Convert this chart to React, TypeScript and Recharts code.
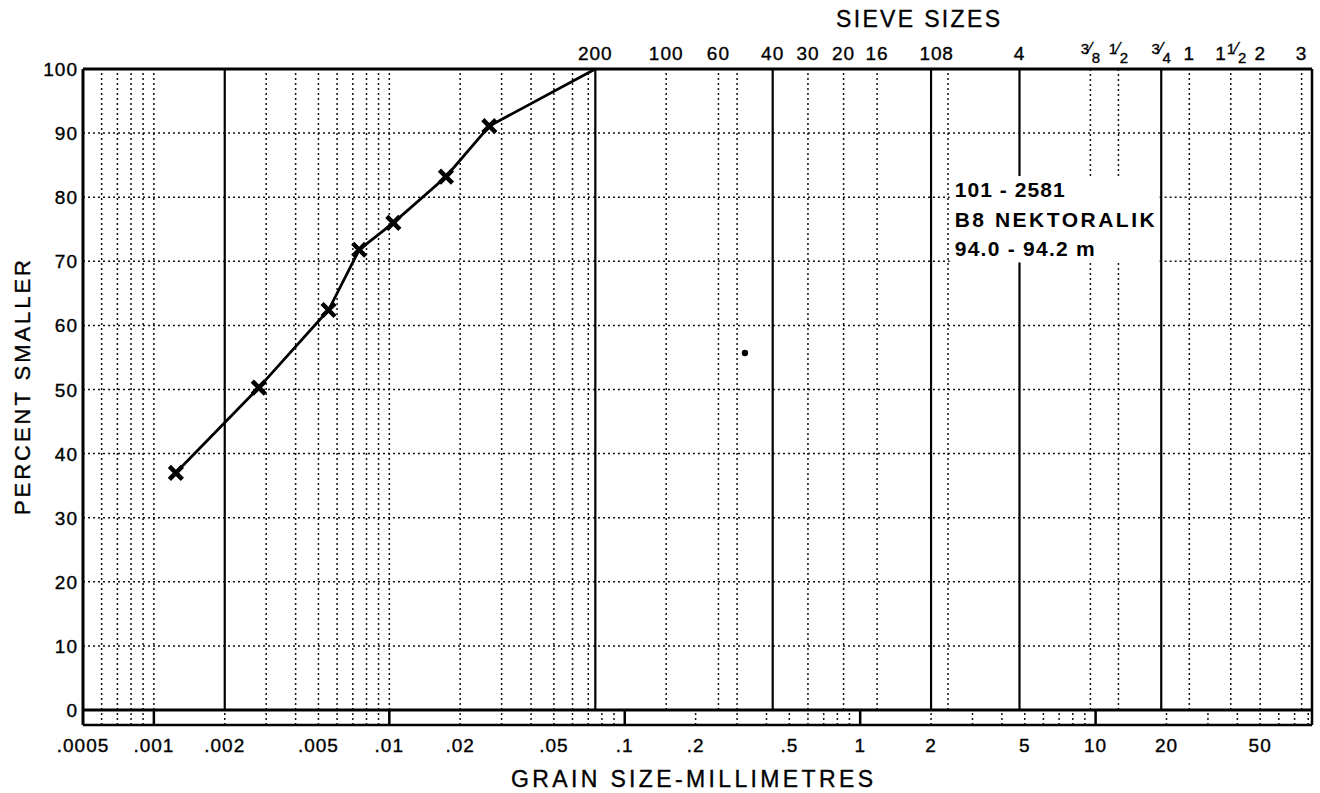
import React from 'react';
import { LineChart, Line, XAxis, YAxis, ReferenceLine, ReferenceArea, ReferenceDot, Customized } from 'recharts';

// hydrometer + sieve gradation, sample 101-2581
const grainSizeMm = [0.00124, 0.00279, 0.00552, 0.00745, 0.0104, 0.0174, 0.0266, 0.075];
const percentSmaller = [37.0, 50.3, 62.4, 71.8, 76.0, 83.2, 91.1, 100];

const mmTicks = [0.0005, 0.001, 0.002, 0.005, 0.01, 0.02, 0.05, 0.1, 0.2, 0.5, 1, 2, 5, 10, 20, 50];
const mmTickLabels = ['.0005', '.001', '.002', '.005', '.01', '.02', '.05', '.1', '.2', '.5', '1', '2', '5', '10', '20', '50'];

const sieveSizesMm = [0.075, 0.15, 0.25, 0.425, 0.6, 0.85, 1.18, 2.0, 2.36, 4.75, 9.5, 12.5, 19, 25, 37.5, 50, 75];
const sieveLabels = ['200', '100', '60', '40', '30', '20', '16', '10', '8', '4', '3/8', '1/2', '3/4', '1', '1 1/2', '2', '3'];

const percentTicks = [0, 10, 20, 30, 40, 50, 60, 70, 80, 90, 100];
const percentRules = [10, 20, 30, 40, 50, 60, 70, 80, 90];

// full-height rules
const heavyRules = [0.002, 0.075, 0.425, 2.0, 4.75, 19];
const fineRules = [0.0006, 0.0007, 0.0008, 0.0009, 0.001, 0.003, 0.004, 0.005, 0.006, 0.007, 0.008, 0.009, 0.01,
  0.02, 0.03, 0.04, 0.05, 0.06, 0.07];
const sieveRules = [0.15, 0.25, 0.3, 0.6, 0.85, 1.18, 2.36, 9.5, 12.5, 25, 37.5, 50, 75];

// log scale strip under the zero line
const stripMinor = [0.0006, 0.0007, 0.0008, 0.0009,
  0.002, 0.003, 0.004, 0.005, 0.006, 0.007, 0.008, 0.009,
  0.02, 0.03, 0.04, 0.05, 0.06, 0.07, 0.08, 0.09,
  0.2, 0.3, 0.4, 0.5, 0.6, 0.7, 0.8, 0.9,
  2, 3, 4, 5, 6, 7, 8, 9,
  20, 30, 40, 50, 60, 70, 80];
const stripDecades = [0.001, 0.01, 0.1, 1, 10];

const sampleLines = ['101 - 2581', 'B8 NEKTORALIK', '94.0 - 94.2 m'];
const sampleWidths = [110, 200, 140];

const MM_MIN = 0.0005;
const MM_MAX = 83;
const STRIP_BOTTOM = -2.34;

// blank panel behind the sample id (grid is left out there)
const PANEL = { x1: 2.4, x2: 18.7, y1: 69.8, y2: 83.3 };

const FONT = '"Liberation Sans", Arial, Helvetica, sans-serif';
const INK = '#111';

const data = grainSizeMm.map((size, i) => ({ size, pct: percentSmaller[i] }));

const verticalSpans = (v: number): [number, number][] =>
  v > PANEL.x1 && v < PANEL.x2 ? [[0, PANEL.y1], [PANEL.y2, 100]] : [[0, 100]];

const horizontalSpans = (p: number): [number, number][] =>
  p > PANEL.y1 && p < PANEL.y2 ? [[MM_MIN, PANEL.x1], [PANEL.x2, MM_MAX]] : [[MM_MIN, MM_MAX]];

const CrossDot = (props: any) => {
  const { cx, cy, index } = props;
  if (index === data.length - 1 || cx == null) return <g key={`x-${index}`} />;
  const h = 6.5;
  return (
    <path
      key={`x-${index}`}
      d={`M${cx - h},${cy - h}L${cx + h},${cy + h}M${cx + h},${cy - h}L${cx - h},${cy + h}`}
      stroke="#000"
      strokeWidth={4.5}
      fill="none"
    />
  );
};

const textInk = { fill: '#000', stroke: '#000', strokeWidth: 0.35 };

const MmTick = ({ x, payload }: any) => {
  const label = mmTickLabels[mmTicks.indexOf(payload.value)];
  return (
    <text x={x} y={752} textAnchor="middle" fontSize={19} fontFamily={FONT} letterSpacing={1} {...textInk}>
      {label}
    </text>
  );
};

const SieveTick = ({ x, payload }: any) => {
  const label = sieveLabels[sieveSizesMm.indexOf(payload.value)] ?? '';
  let whole = label;
  let frac = '';
  if (label.includes(' ')) [whole, frac] = label.split(' ');
  else if (label.includes('/')) { whole = ''; frac = label; }
  const [num, den] = frac ? frac.split('/') : ['', ''];
  return (
    <text x={x} y={60} textAnchor="middle" fontSize={19} fontFamily={FONT} letterSpacing={1} {...textInk}>
      {whole && <tspan>{whole}</tspan>}
      {frac && <tspan dy={-6} fontSize={15} letterSpacing={0}>{num}</tspan>}
      {frac && <tspan fontSize={16} letterSpacing={0}>{'\u2044'}</tspan>}
      {frac && <tspan dy={9} fontSize={15} letterSpacing={0}>{den}</tspan>}
    </text>
  );
};

const PercentTick = ({ x, y, payload }: any) => (
  <text x={x} y={y + 7} textAnchor="end" fontSize={19} fontFamily={FONT} letterSpacing={1} {...textInk}>
    {payload.value}
  </text>
);

const SampleLabel = ({ viewBox }: any) => {
  if (!viewBox) return null;
  const { x, y } = viewBox;
  return (
    <g>
      {sampleLines.map((line, i) => (
        <text
          key={line}
          x={x + 5}
          y={y + 21 + i * 29.5}
          fontSize={21}
          fontWeight="bold"
          fontFamily={FONT}
          textLength={sampleWidths[i]}
          lengthAdjust="spacing"
          fill="#000"
        >
          {line}
        </text>
      ))}
    </g>
  );
};

const Titles = () => (
  <g fontFamily={FONT} {...textInk}>
    <text x={836} y={27} fontSize={23} textLength={164} lengthAdjust="spacing">SIEVE SIZES</text>
    <text x={511} y={787} fontSize={23} textLength={362} lengthAdjust="spacing">GRAIN SIZE-MILLIMETRES</text>
    <text
      x={30}
      y={515}
      fontSize={22}
      textLength={255}
      lengthAdjust="spacing"
      transform="rotate(-90, 30, 515)"
    >
      PERCENT SMALLER
    </text>
  </g>
);

const dotted = { stroke: INK, strokeWidth: 1.5, strokeDasharray: '2 3' };
const heavy = { stroke: '#000', strokeWidth: 2.2 };

export default function App() {
  return (
    <div style={{ position: 'absolute', left: 0, top: 0, background: '#fff' }}>
      <LineChart width={1320} height={793} data={data} margin={{ top: 39, right: 8, bottom: 28, left: 23 }}>
        <XAxis
          xAxisId="mm"
          dataKey="size"
          type="number"
          scale="log"
          domain={[MM_MIN, MM_MAX]}
          allowDataOverflow
          ticks={mmTicks}
          interval={0}
          tick={<MmTick />}
          tickLine={false}
          tickSize={0}
          height={40}
          axisLine={{ stroke: '#000', strokeWidth: 2.5 }}
        />
        <XAxis
          xAxisId="sieve"
          orientation="top"
          dataKey="size"
          type="number"
          scale="log"
          domain={[MM_MIN, MM_MAX]}
          allowDataOverflow
          ticks={sieveSizesMm}
          interval={0}
          tick={<SieveTick />}
          tickLine={false}
          tickSize={0}
          height={30}
          axisLine={{ stroke: '#000', strokeWidth: 3 }}
        />
        <YAxis
          type="number"
          domain={[STRIP_BOTTOM, 100]}
          allowDataOverflow
          ticks={percentTicks}
          interval={0}
          tick={<PercentTick />}
          tickLine={false}
          tickSize={0}
          tickMargin={5}
          width={60}
          axisLine={{ stroke: '#000', strokeWidth: 3 }}
        />

        {percentRules.flatMap((p) =>
          horizontalSpans(p).map(([a, b]) => (
            <ReferenceLine key={`h${p}-${a}`} xAxisId="mm" segment={[{ x: a, y: p }, { x: b, y: p }]} {...dotted} />
          ))
        )}
        {[...fineRules, ...sieveRules].flatMap((v) =>
          verticalSpans(v).map(([a, b]) => (
            <ReferenceLine key={`v${v}-${a}`} xAxisId="mm" segment={[{ x: v, y: a }, { x: v, y: b }]} {...dotted} />
          ))
        )}
        {stripMinor.map((v) => (
          <ReferenceLine key={`s${v}`} xAxisId="mm" segment={[{ x: v, y: STRIP_BOTTOM }, { x: v, y: 0 }]} {...dotted} />
        ))}
        {heavyRules.flatMap((v) =>
          verticalSpans(v).map(([a, b]) => (
            <ReferenceLine key={`r${v}-${a}`} xAxisId="mm" segment={[{ x: v, y: a }, { x: v, y: b }]} {...heavy} />
          ))
        )}
        {stripDecades.map((v) => (
          <ReferenceLine key={`d${v}`} xAxisId="mm" segment={[{ x: v, y: STRIP_BOTTOM }, { x: v, y: 0 }]} stroke="#000" strokeWidth={2.5} />
        ))}
        <ReferenceLine xAxisId="mm" y={0} stroke="#000" strokeWidth={3} />
        <ReferenceLine xAxisId="mm" x={MM_MAX} stroke="#000" strokeWidth={2.5} />

        <ReferenceArea
          xAxisId="mm"
          x1={PANEL.x1}
          x2={PANEL.x2}
          y1={PANEL.y1}
          y2={PANEL.y2}
          fill="#fff"
          fillOpacity={0}
          stroke="none"
          label={<SampleLabel />}
        />
        <ReferenceDot xAxisId="mm" x={0.324} y={55.7} r={3.2} fill="#000" stroke="none" />

        <Line
          xAxisId="mm"
          dataKey="pct"
          type="linear"
          stroke="#000"
          strokeWidth={2.8}
          dot={CrossDot}
          activeDot={false}
          isAnimationActive={false}
        />
        <Customized component={<Titles />} />
      </LineChart>
    </div>
  );
}
